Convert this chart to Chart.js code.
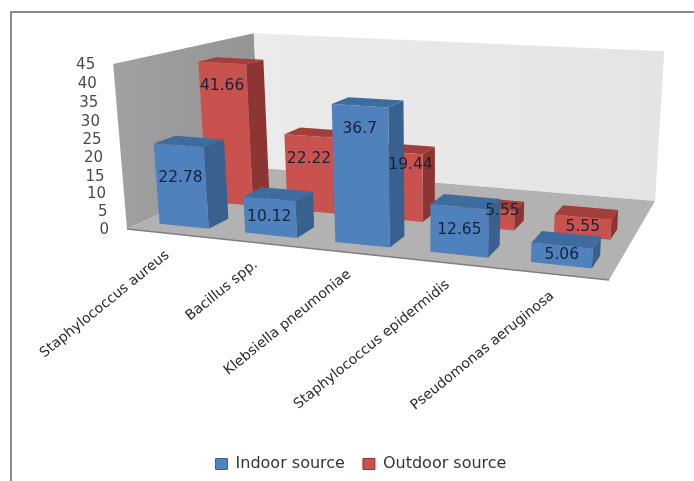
<!DOCTYPE html>
<html>
<head>
<meta charset="utf-8">
<style>
  html, body { margin: 0; padding: 0; background: #fff; }
  #wrap { width: 694px; height: 481px; }
</style>
<script src="https://cdn.jsdelivr.net/npm/chart.js@4"></script>
</head>
<body>
<div id="wrap"><canvas id="myChart" width="694" height="481"></canvas></div>
<script>
const categories = ["Staphylococcus aureus", "Bacillus spp.", "Klebsiella pneumoniae", "Staphylococcus epidermidis", "Pseudomonas aeruginosa"];
const indoor = [22.78, 10.12, 36.7, 12.65, 5.06];
const outdoor = [41.66, 22.22, 19.44, 5.55, 5.55];
const seriesNames = ["Indoor source", "Outdoor source"];

const FONT = "'DejaVu Sans', sans-serif";

// floor corners on screen: front-left, front-right, back-right, back-left
const floor = [[127, 229], [609, 280], [655, 201], [260, 168]];
const vanish = [430, 3845]; // where the upright edges meet
const frontTopY = 64;

// depth range of each row of bars (0 = front of floor, 1 = back wall)
const rows = [[0.095, 0.235], [0.425, 0.56]];
const faces = [
  { front: "#4f81bd", side: "#38618f", top: "#3f6c9f" },
  { front: "#c9524e", side: "#8c3532", top: "#a23e3b" },
];

// labels that were moved by hand in the original, [dataset, index, dx, dy]
const movedLabels = [[0, 0, 2, 10], [1, 2, 14, -10], [1, 3, 15, -7]];

function makeProjection() {
  const [[x0, y0], [x1, y1], [x2, y2], [x3, y3]] = floor;
  const dx1 = x1 - x2, dx2 = x3 - x2, sx = x0 - x1 + x2 - x3;
  const dy1 = y1 - y2, dy2 = y3 - y2, sy = y0 - y1 + y2 - y3;
  const den = dx1 * dy2 - dx2 * dy1;
  const g = (sx * dy2 - dx2 * sy) / den;
  const h = (dx1 * sy - sx * dy1) / den;
  const a = x1 - x0 + g * x1, b = x3 - x0 + h * x3;
  const d = y1 - y0 + g * y1, e = y3 - y0 + h * y3;
  const lam = (frontTopY - y0) / (vanish[1] - frontTopY);
  return (u, v, t) => {
    const w = g * u + h * v + 1 + lam * t;
    return [
      (a * u + b * v + x0 + lam * vanish[0] * t) / w,
      (d * u + e * v + y0 + lam * vanish[1] * t) / w,
    ];
  };
}
const project = makeProjection();

function poly(ctx, pts, fill) {
  ctx.beginPath();
  pts.forEach((p, i) => (i ? ctx.lineTo(p[0], p[1]) : ctx.moveTo(p[0], p[1])));
  ctx.closePath();
  ctx.fillStyle = fill;
  ctx.fill();
}

function drawWalls(ctx) {
  const c = project;
  const left = ctx.createLinearGradient(114, 0, 262, 0);
  left.addColorStop(0, "#a0a0a0");
  left.addColorStop(1, "#949494");
  poly(ctx, [c(0, 0, 0), c(0, 0, 1), c(0, 1, 1), c(0, 1, 0)], left);
  const back = ctx.createLinearGradient(250, 0, 665, 0);
  back.addColorStop(0, "#ebebeb");
  back.addColorStop(1, "#e4e4e4");
  poly(ctx, [c(0, 1, 0), c(0, 1, 1), c(1, 1, 1), c(1, 1, 0)], back);
  poly(ctx, [c(0, 0, 0), c(1, 0, 0), c(1, 1, 0), c(0, 1, 0)], "#b2b2b2");
  // darker lip along the front of the floor
  ctx.strokeStyle = "#7f7f7f";
  ctx.lineWidth = 1.5;
  ctx.beginPath();
  ctx.moveTo(...c(0, 0, 0));
  ctx.lineTo(...c(1, 0, 0));
  ctx.stroke();
}

function drawBox(ctx, u0, u1, v0, v1, t0, t1, col) {
  const c = project;
  poly(ctx, [c(u1, v0, t0), c(u1, v1, t0), c(u1, v1, t1), c(u1, v0, t1)], col.side);
  poly(ctx, [c(u0, v0, t1), c(u1, v0, t1), c(u1, v1, t1), c(u0, v1, t1)], col.top);
  poly(ctx, [c(u0, v0, t0), c(u1, v0, t0), c(u1, v0, t1), c(u0, v0, t1)], col.front);
}

const box3d = {
  id: "box3d",
  beforeDraw(chart) {
    const ctx = chart.ctx;
    // frame of the picture, open at the right and the bottom
    ctx.save();
    ctx.strokeStyle = "#8a8a8a";
    ctx.lineWidth = 2;
    ctx.beginPath();
    ctx.moveTo(11, 481);
    ctx.lineTo(11, 12);
    ctx.lineTo(694, 12);
    ctx.stroke();
    ctx.restore();
  },
  beforeDatasetsDraw(chart) {
    const ctx = chart.ctx;
    const area = chart.chartArea;
    const xs = chart.scales.x, ys = chart.scales.y;
    const toU = (px) => (px - area.left) / area.width;
    const toT = (px) => (area.bottom - px) / area.height;

    ctx.save();
    drawWalls(ctx);

    // value ticks follow the front-left edge of the side wall
    ctx.font = "15px " + FONT;
    ctx.fillStyle = "#4a4a4a";
    ctx.textAlign = "right";
    ctx.textBaseline = "middle";
    ys.ticks.forEach((tick) => {
      const p = project(0, 0, toT(ys.getPixelForValue(tick.value)));
      ctx.fillText(tick.label, p[0] - 18, p[1] + 1);
    });

    // back row first, so the front row covers it
    [1, 0].forEach((ds) => {
      chart.getDatasetMeta(ds).data.forEach((bar) => {
        const u0 = toU(bar.x - bar.width / 2), u1 = toU(bar.x + bar.width / 2);
        drawBox(ctx, u0, u1, rows[ds][0], rows[ds][1], toT(bar.base), toT(bar.y), faces[ds]);
      });
    });

    // category labels hang off the front edge of the floor
    ctx.font = "14px " + FONT;
    ctx.fillStyle = "#2a2a2a";
    ctx.textAlign = "right";
    ctx.textBaseline = "middle";
    categories.forEach((name, i) => {
      const p = project(toU(xs.getPixelForValue(i)), 0, 0);
      ctx.save();
      ctx.translate(p[0] - 2, p[1] + 20);
      ctx.rotate((-39 * Math.PI) / 180);
      ctx.fillText(name, 0, 0);
      ctx.restore();
    });

    // value labels sit on the front face of each bar
    ctx.font = "15.5px " + FONT;
    ctx.fillStyle = "#14233a";
    ctx.textAlign = "center";
    [1, 0].forEach((ds) => {
      chart.getDatasetMeta(ds).data.forEach((bar, i) => {
        const uc = toU(bar.x);
        const top = project(uc, rows[ds][0], toT(bar.y));
        const bottom = project(uc, rows[ds][0], 0);
        const drop = Math.min((bottom[1] - top[1]) / 2, 23);
        const moved = movedLabels.find((m) => m[0] === ds && m[1] === i) || [0, 0, 0, 0];
        ctx.fillText(chart.data.datasets[ds].data[i], top[0] + moved[2], top[1] + drop + moved[3]);
      });
    });
    ctx.restore();
    return false;
  },
};

new Chart(document.getElementById("myChart"), {
  type: "bar",
  data: {
    labels: categories,
    datasets: [
      { label: seriesNames[0], data: indoor, backgroundColor: faces[0].front, borderColor: faces[0].side, borderWidth: 1 },
      { label: seriesNames[1], data: outdoor, backgroundColor: faces[1].front, borderColor: faces[1].side, borderWidth: 1 },
    ],
  },
  options: {
    responsive: false,
    animation: false,
    devicePixelRatio: 1,
    layout: { padding: { left: 28, right: 0, top: 40, bottom: -1 } },
    datasets: { bar: { grouped: false, barPercentage: 0.58, categoryPercentage: 1 } },
    scales: {
      x: { display: false },
      y: { display: false, min: 0, max: 45, ticks: { stepSize: 5 } },
    },
    plugins: {
      tooltip: { enabled: false },
      legend: {
        position: "bottom",
        labels: { boxWidth: 12, boxHeight: 11, padding: 18, color: "#333", font: { family: FONT, size: 16 } },
      },
    },
  },
  plugins: [box3d],
});
</script>
</body>
</html>
